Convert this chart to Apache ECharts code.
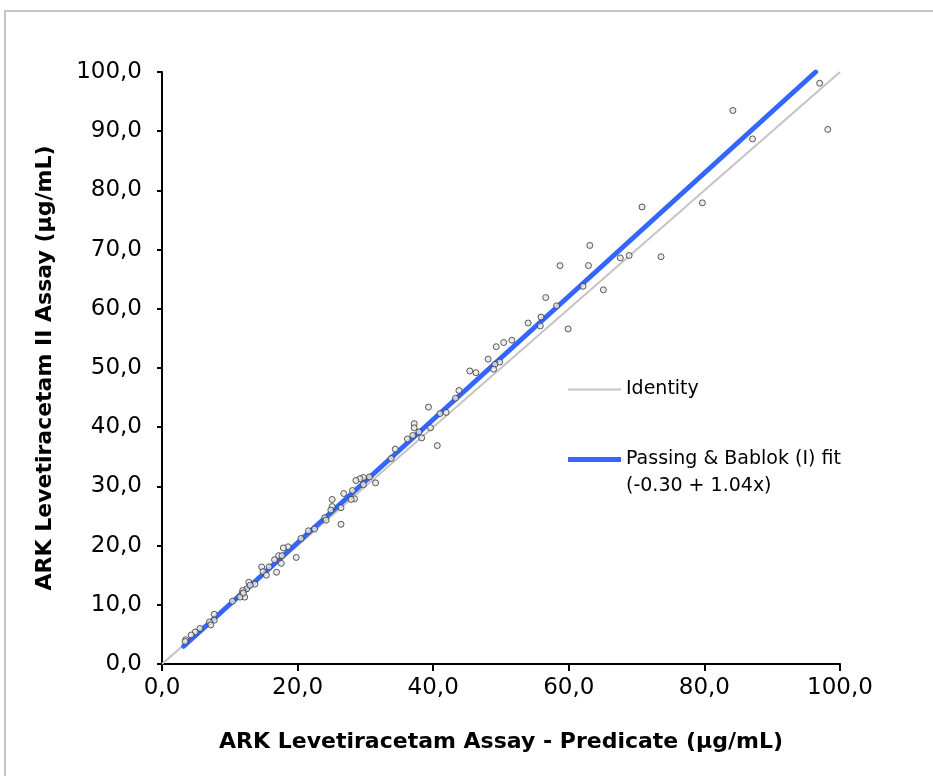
<!DOCTYPE html>
<html>
<head>
<meta charset="utf-8">
<script src="https://cdn.jsdelivr.net/npm/echarts@6/dist/echarts.min.js"></script>
<style>
  html, body { margin: 0; padding: 0; background: #fff; }
  #chart { width: 933px; height: 776px; }
</style>
</head>
<body>
<div id="chart"></div>
<script>
// Data
const predicateX = [
  97.0, 98.2, 84.2, 87.1, 79.7, 70.8, 73.6, 68.9, 67.6, 63.1,
  62.9, 58.7, 65.1, 62.1, 56.6, 58.2, 55.9, 55.8, 59.9, 54.0,
  51.6, 50.4, 49.3, 48.1, 49.8, 49.1, 48.9, 45.4, 46.3, 43.8,
  43.3, 39.3, 41.0, 41.9, 37.2, 37.2, 39.6, 37.9, 37.0, 36.2,
  38.3, 40.6, 34.4, 33.8, 30.6, 29.7, 29.2, 28.6, 31.5, 29.7,
  28.1, 26.8, 28.4, 27.9, 25.1, 25.1, 26.4, 24.9, 24.0, 24.2,
  26.4, 22.5, 21.6, 20.5, 18.6, 17.9, 19.8, 17.2, 17.7, 16.6,
  17.6, 16.9, 15.8, 14.7, 14.9, 15.4, 13.7, 12.8, 12.5, 11.9,
  11.8, 12.2, 11.5, 10.4, 7.7, 7.7, 7.0, 7.2, 5.6, 4.9,
  4.3, 3.5, 3.4, 13.0, 12.0
];
const arkY = [
  98.1, 90.3, 93.5, 88.7, 77.9, 77.2, 68.8, 69.0, 68.6, 70.7,
  67.3, 67.3, 63.2, 63.8, 61.9, 60.5, 58.6, 57.1, 56.6, 57.6,
  54.7, 54.3, 53.6, 51.5, 51.0, 50.6, 49.8, 49.5, 49.2, 46.2,
  44.9, 43.4, 42.3, 42.5, 40.6, 39.9, 39.9, 39.2, 38.6, 38.0,
  38.2, 36.9, 36.3, 34.7, 31.6, 31.5, 31.3, 31.0, 30.6, 30.3,
  29.3, 28.8, 27.9, 27.8, 27.8, 26.6, 26.4, 26.0, 24.7, 24.3,
  23.6, 22.8, 22.5, 21.2, 19.8, 19.6, 18.0, 18.3, 18.3, 17.6,
  17.0, 15.5, 16.4, 16.4, 15.6, 15.0, 13.5, 13.8, 12.7, 12.4,
  11.9, 11.3, 11.3, 10.6, 8.4, 7.4, 7.1, 6.6, 6.0, 5.4,
  4.9, 4.1, 3.8, 13.3, 12.0
];
const identityX = [0, 100];
const identityY = [0, 100];
const fitX = [3.2, 96.4];
const fitY = [3.0, 100.0];
const fitFormula = '(-0.30 + 1.04x)';

const zip = (xs, ys) => xs.map((x, i) => [x, ys[i]]);
const fmt = (v) => v.toFixed(1).replace('.', ',');

var chartDom = document.getElementById('chart');
var myChart = echarts.init(chartDom);
var option;

const font = 'DejaVu Sans, sans-serif';

option = {
  animation: false,
  backgroundColor: '#fff',
  graphic: [
    {
      type: 'rect',
      shape: { x: 5, y: 11, width: 1000, height: 1000 },
      style: { fill: 'none', stroke: '#c6c6c6', lineWidth: 2 },
      silent: true,
    },
  ],
  grid: { left: 162, right: 93, top: 72, bottom: 112 },
  legend: [
    {
      data: ['Identity'],
      left: 568,
      top: 376,
      padding: 0,
      icon: 'rect',
      itemWidth: 53,
      itemHeight: 2,
      textStyle: { fontFamily: font, fontSize: 19, color: '#000', lineHeight: 27 },
    },
    {
      data: ['Passing & Bablok (I) fit'],
      left: 568,
      top: 419,
      padding: 0,
      icon: 'rect',
      itemWidth: 53,
      itemHeight: 5,
      // blank first line so the icon sits beside the name line
      formatter: (name) => ' \n' + name + '\n' + fitFormula,
      textStyle: { fontFamily: font, fontSize: 19, color: '#000', lineHeight: 27 },
    },
  ],
  xAxis: {
    type: 'value',
    min: 0,
    max: 100,
    interval: 20,
    name: 'ARK Levetiracetam Assay - Predicate (µg/mL)',
    nameLocation: 'middle',
    nameGap: 67,
    nameTextStyle: { fontFamily: font, fontSize: 22, fontWeight: 'bold', color: '#000' },
    axisLine: { onZero: false, lineStyle: { color: '#000', width: 2 } },
    axisTick: { show: true, length: 7, lineStyle: { color: '#000', width: 2 } },
    axisLabel: { formatter: fmt, fontFamily: font, fontSize: 23, color: '#000', margin: 13 },
    splitLine: { show: false },
  },
  yAxis: {
    type: 'value',
    min: 0,
    max: 100,
    interval: 10,
    name: 'ARK Levetiracetam II Assay (µg/mL)',
    nameLocation: 'middle',
    nameGap: 106,
    nameTextStyle: { fontFamily: font, fontSize: 22, fontWeight: 'bold', color: '#000' },
    axisLine: { show: true, onZero: false, lineStyle: { color: '#000', width: 2 } },
    axisTick: { show: true, length: 5, lineStyle: { color: '#000', width: 2 } },
    axisLabel: { formatter: fmt, fontFamily: font, fontSize: 23, color: '#000', margin: 20 },
    splitLine: { show: false },
  },
  series: [
    {
      name: 'Identity',
      type: 'line',
      symbol: 'none',
      silent: true,
      color: '#c4c4c4',
      lineStyle: { color: '#c4c4c4', width: 2 },
      data: zip(identityX, identityY),
      z: 1,
    },
    {
      name: 'Passing & Bablok (I) fit',
      type: 'line',
      symbol: 'none',
      silent: true,
      color: '#3366ff',
      lineStyle: { color: '#3366ff', width: 5, cap: 'round' },
      data: zip(fitX, fitY),
      z: 2,
    },
    {
      name: 'Samples',
      type: 'scatter',
      symbol: 'circle',
      symbolSize: 6,
      itemStyle: { color: '#e6e6e6', borderColor: '#333', borderWidth: 1 },
      data: zip(predicateX, arkY),
      z: 3,
    },
  ],
};

option && myChart.setOption(option);
</script>
</body>
</html>
